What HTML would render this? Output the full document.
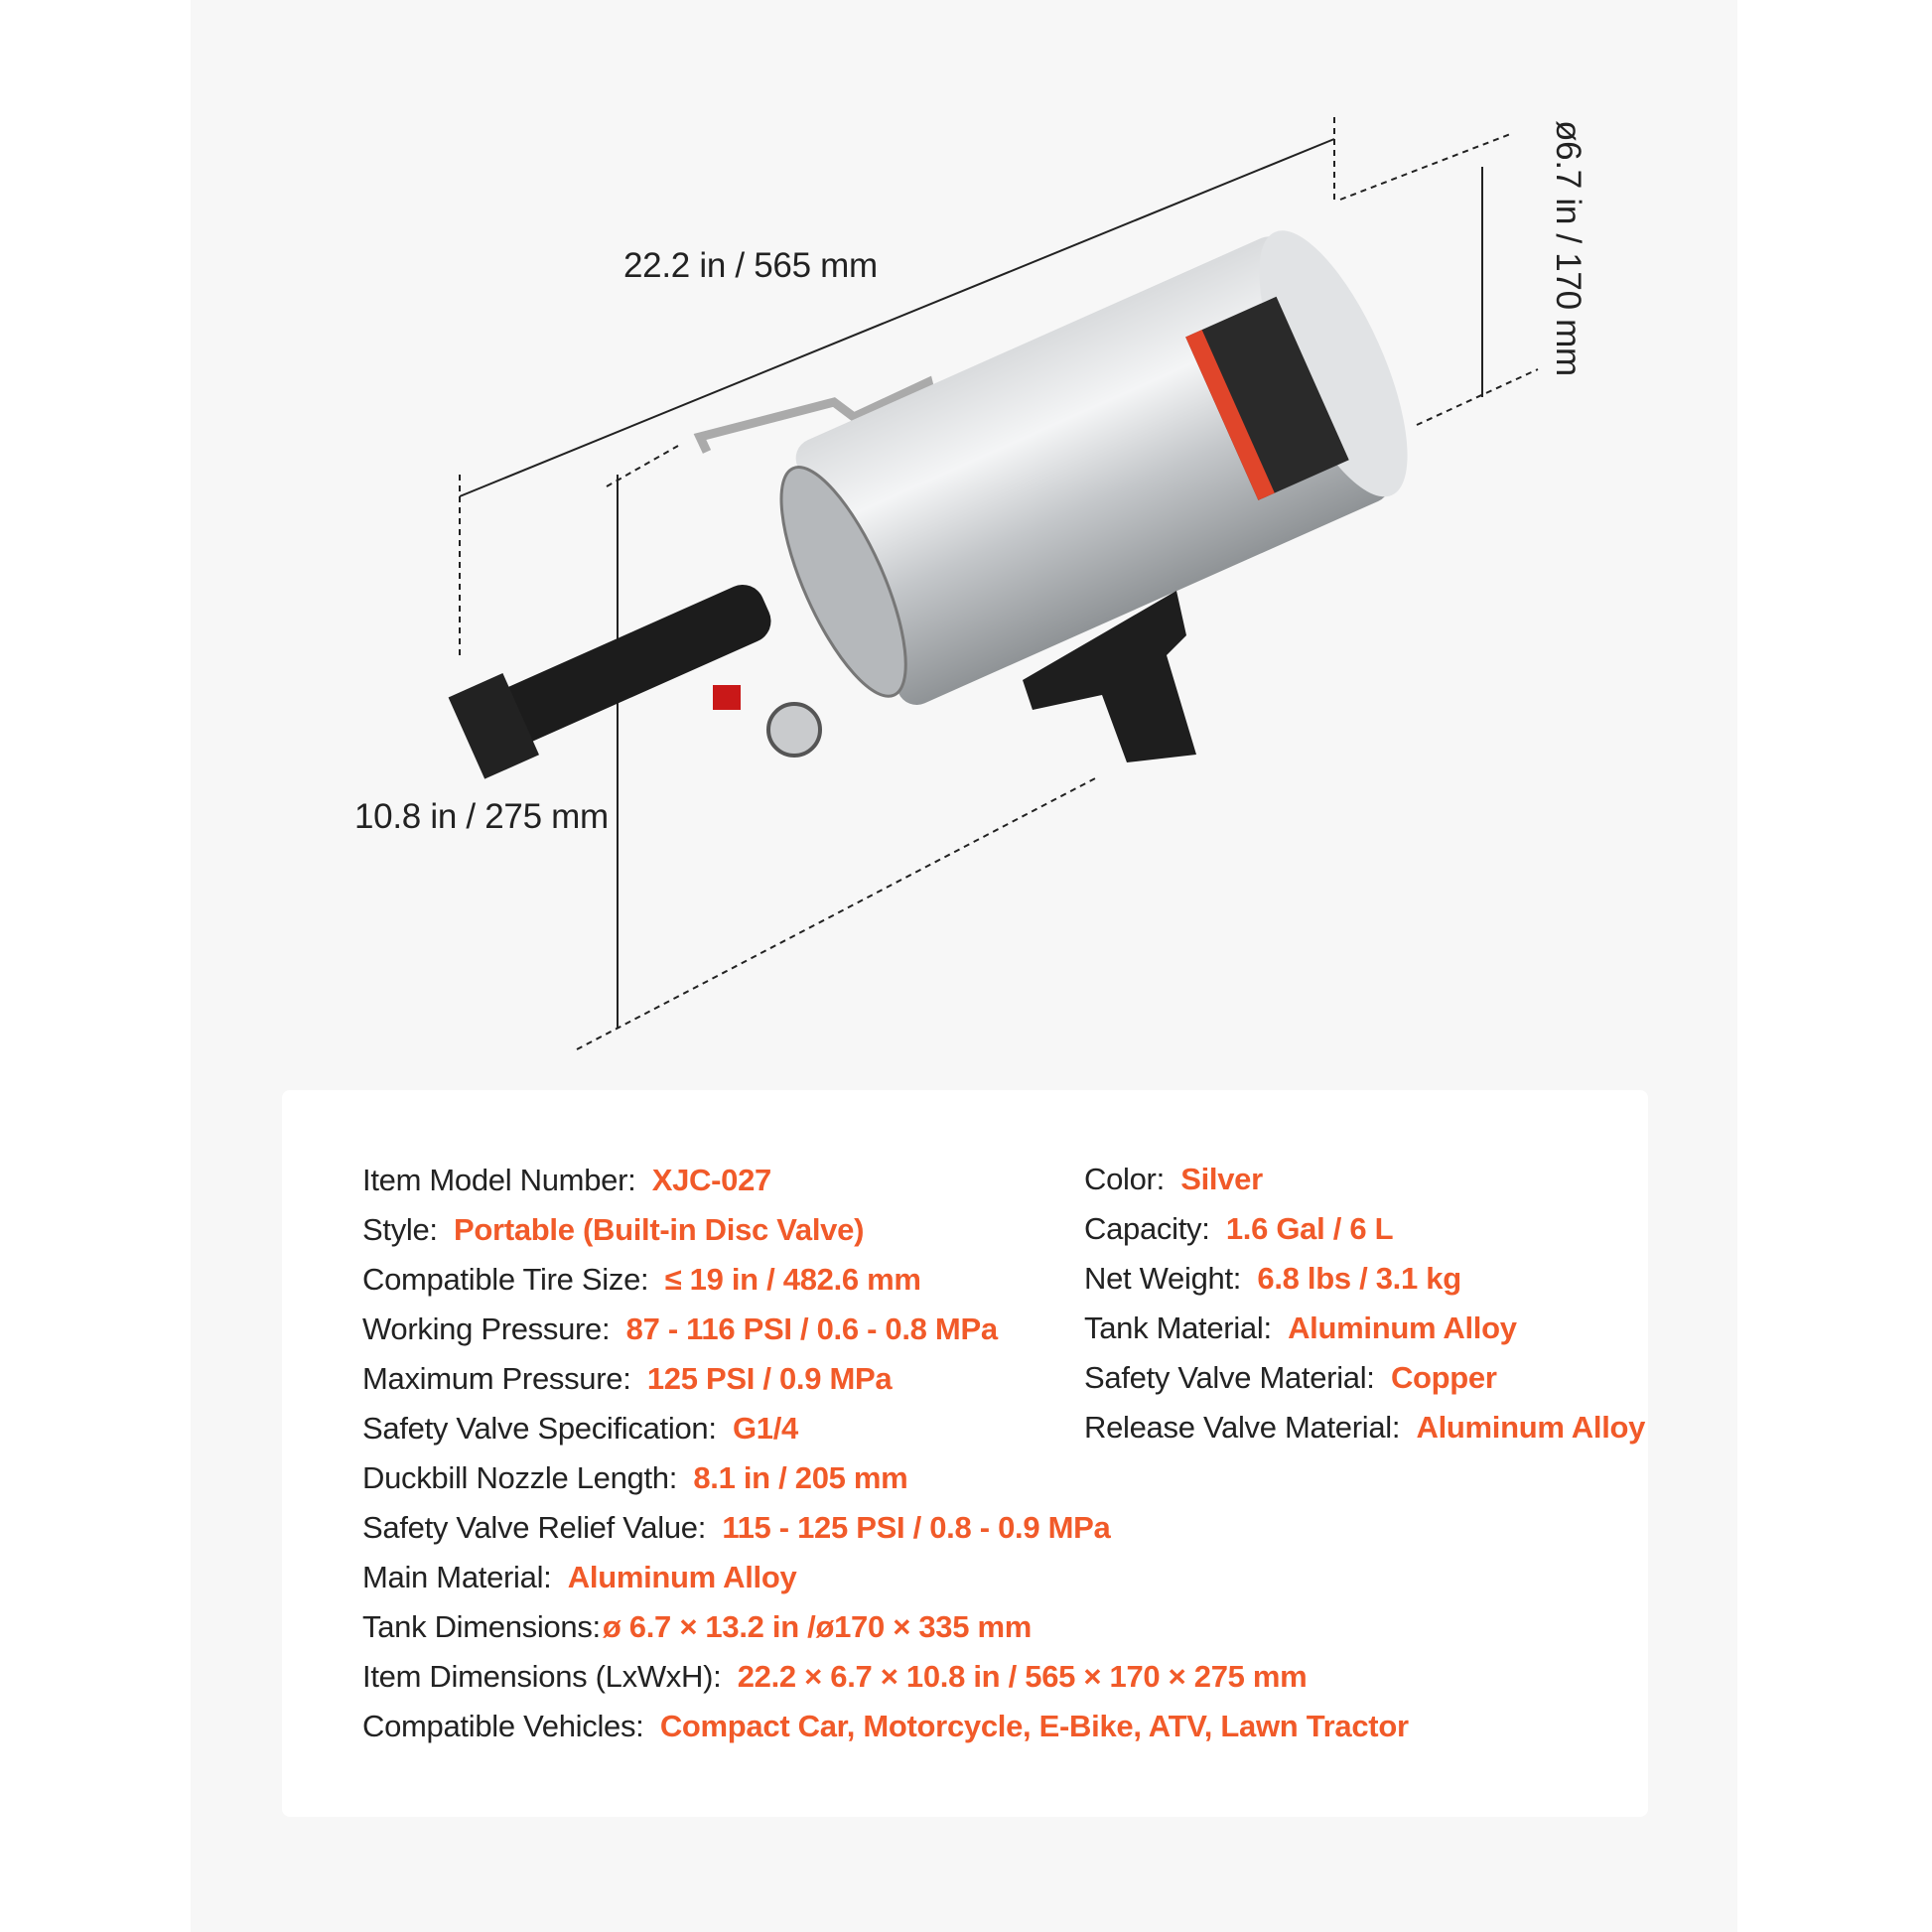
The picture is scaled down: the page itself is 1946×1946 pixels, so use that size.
<!DOCTYPE html>
<html><head><meta charset="utf-8"><style>
html,body{margin:0;padding:0;background:#fff}
body{width:1946px;height:1946px;position:relative;overflow:hidden;font-family:"Liberation Sans",sans-serif}
#panel{position:absolute;left:192px;top:0;width:1558px;height:1946px;background:#f7f7f7}
#card{position:absolute;left:284px;top:1098px;width:1376px;height:732px;background:#fff;border-radius:8px}
.row{position:absolute;font-size:31px;color:#222;white-space:nowrap;letter-spacing:-0.3px}
.row b{color:#f15a29;font-weight:bold;margin-left:8px}
.dim{position:absolute;font-size:35px;color:#222;white-space:nowrap;letter-spacing:-0.3px}
</style></head><body>
<div id="panel"></div>
<svg width="1946" height="1946" style="position:absolute;left:0;top:0">
<defs>
<linearGradient id="tank" x1="0" y1="0" x2="0" y2="1">
<stop offset="0" stop-color="#d9dbdd"/><stop offset="0.3" stop-color="#f4f5f6"/><stop offset="0.6" stop-color="#c4c7ca"/><stop offset="1" stop-color="#8f9396"/>
</linearGradient>
</defs>
<g stroke="#222" fill="none" stroke-width="2">
<line x1="463" y1="500" x2="1344" y2="140"/>
<line x1="463" y1="478" x2="463" y2="664" stroke-dasharray="6,5"/>
<line x1="1344" y1="118" x2="1344" y2="205" stroke-dasharray="6,5"/>
<line x1="1350" y1="201" x2="1524" y2="134" stroke-dasharray="6,5"/>
<line x1="1493" y1="168" x2="1493" y2="400"/>
<line x1="1427" y1="428" x2="1549" y2="372" stroke-dasharray="6,5"/>
<line x1="622" y1="478" x2="622" y2="1036"/>
<line x1="581" y1="1057" x2="1107" y2="782" stroke-dasharray="6,5"/>
<line x1="611" y1="490" x2="683" y2="449" stroke-dasharray="6,5"/>
</g>
<!-- handle -->
<path d="M712,455 L705,440 L840,405 L860,420 L935,385 L940,405" stroke="#aaa" stroke-width="9" fill="none"/>
<!-- tank -->
<g transform="translate(1110,470) rotate(-24)">
<rect x="-280" y="-145" width="540" height="290" rx="20" fill="url(#tank)"/>
<ellipse cx="255" cy="0" rx="50" ry="145" fill="#e1e3e5"/>
<rect x="130" y="-85" width="100" height="180" fill="#2a2a2a"/>
<rect x="130" y="-85" width="18" height="180" fill="#e0452a"/>
<ellipse cx="-285" cy="0" rx="40" ry="125" fill="#b5b8bb" stroke="#777" stroke-width="3"/>
</g>
<!-- nozzle -->
<g transform="translate(680,650) rotate(-24)">
<rect x="-200" y="-30" width="300" height="60" rx="22" fill="#1c1c1c"/>
<rect x="-230" y="-45" width="60" height="90" fill="#222"/>
</g>
<!-- pistol grip -->
<path d="M1030,685 L1185,595 L1195,640 L1175,660 L1205,760 L1135,768 L1110,700 L1040,715 Z" fill="#1e1e1e"/>
<circle cx="800" cy="735" r="26" fill="#c9cbcd" stroke="#555" stroke-width="4"/>
<rect x="718" y="690" width="28" height="25" fill="#c91818"/>
</svg>
<div class="dim" style="left:628px;top:248px">22.2 in / 565 mm</div>
<div class="dim" style="left:357px;top:803px">10.8 in / 275 mm</div>
<div class="dim" style="left:1444px;top:230px;transform:rotate(90deg);transform-origin:center;width:270px;text-align:center">ø6.7 in / 170 mm</div>
<div id="card"></div>
<div class="row" style="left:365px;top:1171px">Item Model Number: <b>XJC-027</b></div>
<div class="row" style="left:365px;top:1221px">Style: <b>Portable (Built-in Disc Valve)</b></div>
<div class="row" style="left:365px;top:1271px">Compatible Tire Size: <b>≤ 19 in / 482.6 mm</b></div>
<div class="row" style="left:365px;top:1321px">Working Pressure: <b>87 - 116 PSI / 0.6 - 0.8 MPa</b></div>
<div class="row" style="left:365px;top:1371px">Maximum Pressure: <b>125 PSI / 0.9 MPa</b></div>
<div class="row" style="left:365px;top:1421px">Safety Valve Specification: <b>G1/4</b></div>
<div class="row" style="left:365px;top:1471px">Duckbill Nozzle Length: <b>8.1 in / 205 mm</b></div>
<div class="row" style="left:365px;top:1521px">Safety Valve Relief Value: <b>115 - 125 PSI / 0.8 - 0.9 MPa</b></div>
<div class="row" style="left:365px;top:1571px">Main Material: <b>Aluminum Alloy</b></div>
<div class="row" style="left:365px;top:1621px">Tank Dimensions:<b style="margin-left:2px">ø 6.7 × 13.2 in /ø170 × 335 mm</b></div>
<div class="row" style="left:365px;top:1671px">Item Dimensions (LxWxH): <b>22.2 × 6.7 × 10.8 in / 565 × 170 × 275 mm</b></div>
<div class="row" style="left:365px;top:1721px">Compatible Vehicles: <b>Compact Car, Motorcycle, E-Bike, ATV, Lawn Tractor</b></div>
<div class="row" style="left:1092px;top:1170px">Color: <b>Silver</b></div>
<div class="row" style="left:1092px;top:1220px">Capacity: <b>1.6 Gal / 6 L</b></div>
<div class="row" style="left:1092px;top:1270px">Net Weight: <b>6.8 lbs / 3.1 kg</b></div>
<div class="row" style="left:1092px;top:1320px">Tank Material: <b>Aluminum Alloy</b></div>
<div class="row" style="left:1092px;top:1370px">Safety Valve Material: <b>Copper</b></div>
<div class="row" style="left:1092px;top:1420px">Release Valve Material: <b>Aluminum Alloy</b></div>
</body></html>
